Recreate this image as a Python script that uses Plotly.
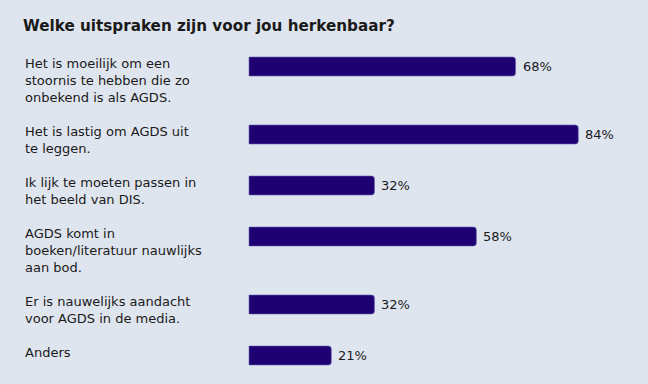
import plotly.graph_objects as go

title = "Welke uitspraken zijn voor jou herkenbaar?"
labels = [
    "Het is moeilijk om een<br>stoornis te hebben die zo<br>onbekend is als AGDS.",
    "Het is lastig om AGDS uit<br>te leggen.",
    "Ik lijk te moeten passen in<br>het beeld van DIS.",
    "AGDS komt in<br>boeken/literatuur nauwlijks<br>aan bod.",
    "Er is nauwelijks aandacht<br>voor AGDS in de media.",
    "Anders",
]
values = [68, 84, 32, 58, 32, 21]

W, H = 648, 384
BAR_X0 = 249          # px where bars start
PX_PER_PCT = 3.92     # px per percent
LINE_H = 17
TOP0 = 57
BAR_H = 19
FONT = "Verdana, DejaVu Sans, sans-serif"
TXT = "#1a1a1a"

# layout positions computed from line counts
tops = []
t = TOP0
for lab in labels:
    tops.append(t)
    n = lab.count("<br>") + 1
    t += (n + 1) * LINE_H
centers = [tp + BAR_H / 2 for tp in tops]

fig = go.Figure(go.Bar(
    x=values, y=centers, orientation="h", width=BAR_H,
    marker=dict(color="#1f0073", line=dict(color="#6a62ad", width=0.6), cornerradius=3),
    hoverinfo="skip",
))

for v, c in zip(values, centers):
    fig.add_annotation(
        x=v, y=c, xref="x", yref="y", xanchor="left", yanchor="middle", xshift=5,
        text=f"{v}%", showarrow=False,
        font=dict(family=FONT, size=13, color=TXT),
    )

for lab, tp in zip(labels, tops):
    fig.add_annotation(
        x=23 / W, xref="paper", y=tp - 3, yref="y", yanchor="top", xanchor="left",
        text=lab, showarrow=False, align="left",
        font=dict(family=FONT, size=13, color=TXT),
    )

fig.update_layout(
    width=W, height=H,
    margin=dict(l=0, r=0, t=0, b=0),
    paper_bgcolor="#dfe5ef", plot_bgcolor="#dfe5ef",
    showlegend=False,
    title=dict(text="<b>" + title + "</b>", x=23 / W, xref="container", xanchor="left",
               y=1 - 26 / H, yref="container", yanchor="middle",
               font=dict(family=FONT, size=15.2, color=TXT)),
    xaxis=dict(range=[-BAR_X0 / PX_PER_PCT, (W - BAR_X0) / PX_PER_PCT], visible=False, fixedrange=True),
    yaxis=dict(range=[H, 0], visible=False, fixedrange=True),
)

fig.write_html("out.html", config={"displayModeBar": False},
               post_script="document.body.style.margin='0';document.body.style.overflow='hidden';")
